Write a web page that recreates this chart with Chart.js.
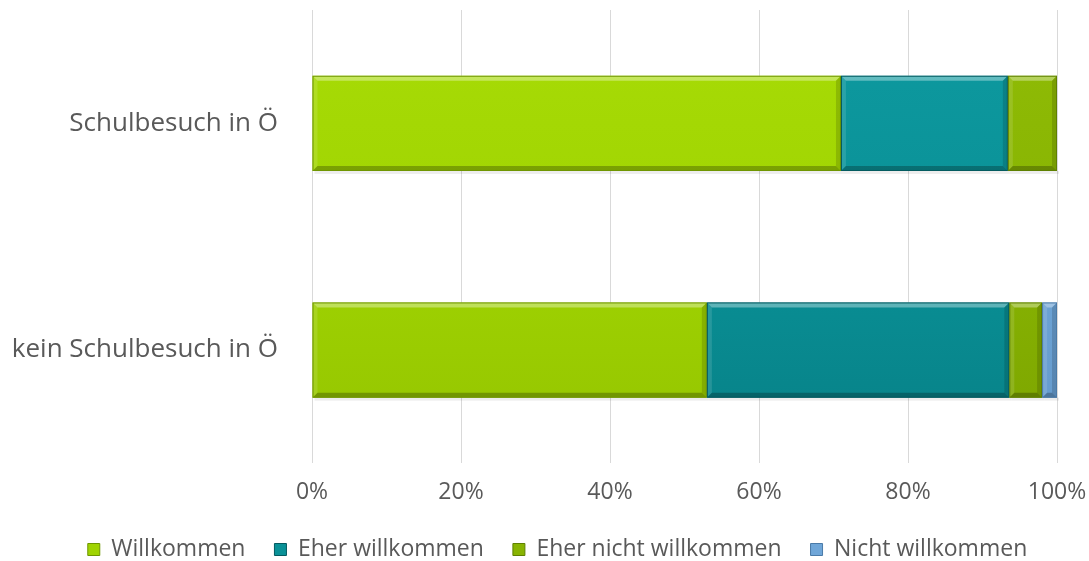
<!DOCTYPE html>
<html><head><meta charset="utf-8">
<script src="https://cdn.jsdelivr.net/npm/chart.js@4"></script>
<style>html,body{margin:0;padding:0;background:#fff}#wrap{width:1089px;height:561px}</style>
</head><body><div id="wrap"><canvas id="c" width="1089" height="561"></canvas></div>
<script>
const categories = ["Schulbesuch in Ö", "kein Schulbesuch in Ö"];
const seriesNames = ["Willkommen", "Eher willkommen", "Eher nicht willkommen", "Nicht willkommen"];
const willkommen = [71.0, 53.0];
const eherWillkommen = [22.4, 40.6];
const eherNicht = [6.6, 4.4];
const nichtWillkommen = [0.0, 2.0];
const xTicks = ["0%", "20%", "40%", "60%", "80%", "100%"];

const palette = [
  {top:'#a8dc06', mid:'#a0d402', bot:'#94c400', border:'#6f9600'},
  {top:'#0e9aa0', mid:'#0a9197', bot:'#078086', border:'#045a60'},
  {top:'#90bc06', mid:'#88b402', bot:'#7ca400', border:'#5f8000'},
  {top:'#78b0e0', mid:'#6fa6d8', bot:'#6398ca', border:'#4a7aa8'}
];
function grad(ctx, i){
  const c = ctx.chart; const a = c.chartArea;
  if(!a) return palette[i].mid;
  const el = ctx.element;
  let y0 = a.top, y1 = a.bottom;
  if (el && el.height) { y0 = el.y - el.height/2; y1 = el.y + el.height/2; }
  const g = c.ctx.createLinearGradient(0, y0, 0, y1);
  g.addColorStop(0, palette[i].top);
  g.addColorStop(0.5, palette[i].mid);
  g.addColorStop(1, palette[i].bot);
  return g;
}
const dataArrays = [willkommen, eherWillkommen, eherNicht, nichtWillkommen];
const datasets = dataArrays.map((d,i)=>({
  label: seriesNames[i],
  data: d,
  backgroundColor: (ctx)=>grad(ctx,i),
  borderColor: palette[i].border,
  borderWidth: 0,
  borderSkipped: false,
  barPercentage: 0.42,
  categoryPercentage: 1.0
}));

// bevel effect drawn over each bar element
const bevel = {
  id: 'bevel',
  beforeDatasetsDraw(chart) {
    const ctx = chart.ctx;
    chart.data.datasets.forEach((ds, di) => {
      chart.getDatasetMeta(di).data.forEach(el => {
        const x0 = Math.min(el.base, el.x), x1 = Math.max(el.base, el.x);
        if (x1 - x0 < 1) return;
        const y1 = el.y + el.height/2;
        ctx.save();
        ctx.fillStyle = 'rgba(0,0,0,0.07)';
        ctx.fillRect(x0 + 2, y1, x1 - x0, 3);
        ctx.restore();
      });
    });
  },
  afterDatasetsDraw(chart) {
    const ctx = chart.ctx;
    chart.data.datasets.forEach((ds, di) => {
      const meta = chart.getDatasetMeta(di);
      meta.data.forEach(el => {
        const x0 = Math.min(el.base, el.x), x1 = Math.max(el.base, el.x);
        const w = x1 - x0; if (w < 1) return;
        const y0 = el.y - el.height/2, y1 = el.y + el.height/2;
        const b = Math.min(5, w/2);
        ctx.save();
        ctx.fillStyle = 'rgba(255,255,255,0.35)';
        ctx.beginPath(); ctx.moveTo(x0,y0); ctx.lineTo(x1,y0); ctx.lineTo(x1-b,y0+b); ctx.lineTo(x0+b,y0+b); ctx.closePath(); ctx.fill();
        ctx.fillStyle = 'rgba(255,255,255,0.12)';
        ctx.beginPath(); ctx.moveTo(x0,y0); ctx.lineTo(x0+b,y0+b); ctx.lineTo(x0+b,y1-b); ctx.lineTo(x0,y1); ctx.closePath(); ctx.fill();
        ctx.fillStyle = 'rgba(0,0,0,0.14)';
        ctx.beginPath(); ctx.moveTo(x1,y0); ctx.lineTo(x1,y1); ctx.lineTo(x1-b,y1-b); ctx.lineTo(x1-b,y0+b); ctx.closePath(); ctx.fill();
        ctx.fillStyle = 'rgba(0,0,0,0.25)';
        ctx.beginPath(); ctx.moveTo(x0,y1); ctx.lineTo(x1,y1); ctx.lineTo(x1-b,y1-b); ctx.lineTo(x0+b,y1-b); ctx.closePath(); ctx.fill();
        ctx.strokeStyle = palette[di].border; ctx.lineWidth = 1;
        ctx.strokeRect(x0+0.5, y0+0.5, w-1, y1-y0-1);
        ctx.restore();
      });
    });
  }
};

// nudge the legend row to its place in the reference
const legendShift = {
  id: 'legendShift',
  afterLayout(chart) {
    const lg = chart.legend;
    if (!lg) return;
    const dy = -12, dx = 29;
    lg.top += dy; lg.bottom += dy;
    lg.left += dx; lg.right += dx;
    if (lg.legendHitBoxes) lg.legendHitBoxes.forEach(h => { h.top += dy; h.left += dx; });
  }
};

new Chart(document.getElementById('c'), {
  type: 'bar',
  data: { labels: categories, datasets },
  plugins: [bevel, legendShift],
  options: {
    indexAxis: 'y',
    responsive: false,
    animation: false,
    layout: { padding: { top: 10, right: 32, left: 0, bottom: -22 } },
    plugins: {
      legend: {
        position: 'bottom',
        labels: {
          color: '#595959',
          font: { family: 'Open Sans', size: 23 },
          boxWidth: 12, boxHeight: 12,
          padding: 29,
          generateLabels: (chart) => chart.data.datasets.map((ds,i)=>({
            text: ds.label, fillStyle: palette[i].mid, strokeStyle: palette[i].border,
            lineWidth: 1, datasetIndex: i, hidden: false, fontColor: '#595959'
          }))
        }
      },
      tooltip: { enabled: false }
    },
    scales: {
      x: {
        stacked: true, min: 0, max: 100,
        ticks: { stepSize: 20, color: '#595959', padding: 15,
          font: { family: 'Open Sans', size: 23 },
          callback: (v, idx) => xTicks[idx] },
        grid: { color: '#d9d9d9', lineWidth: 1, drawTicks: false },
        border: { display: false },
        afterFit: (s) => { s.paddingLeft = 0; s.paddingRight = 0; }
      },
      y: {
        stacked: true,
        ticks: { color: '#595959', padding: 34, font: { family: 'Open Sans', size: 26 } },
        grid: { display: false, drawTicks: false },
        border: { display: false },
        afterFit: (s) => { s.width = 312; s.paddingTop = 0; s.paddingBottom = 0; }
      }
    }
  }
});
</script></body></html>
